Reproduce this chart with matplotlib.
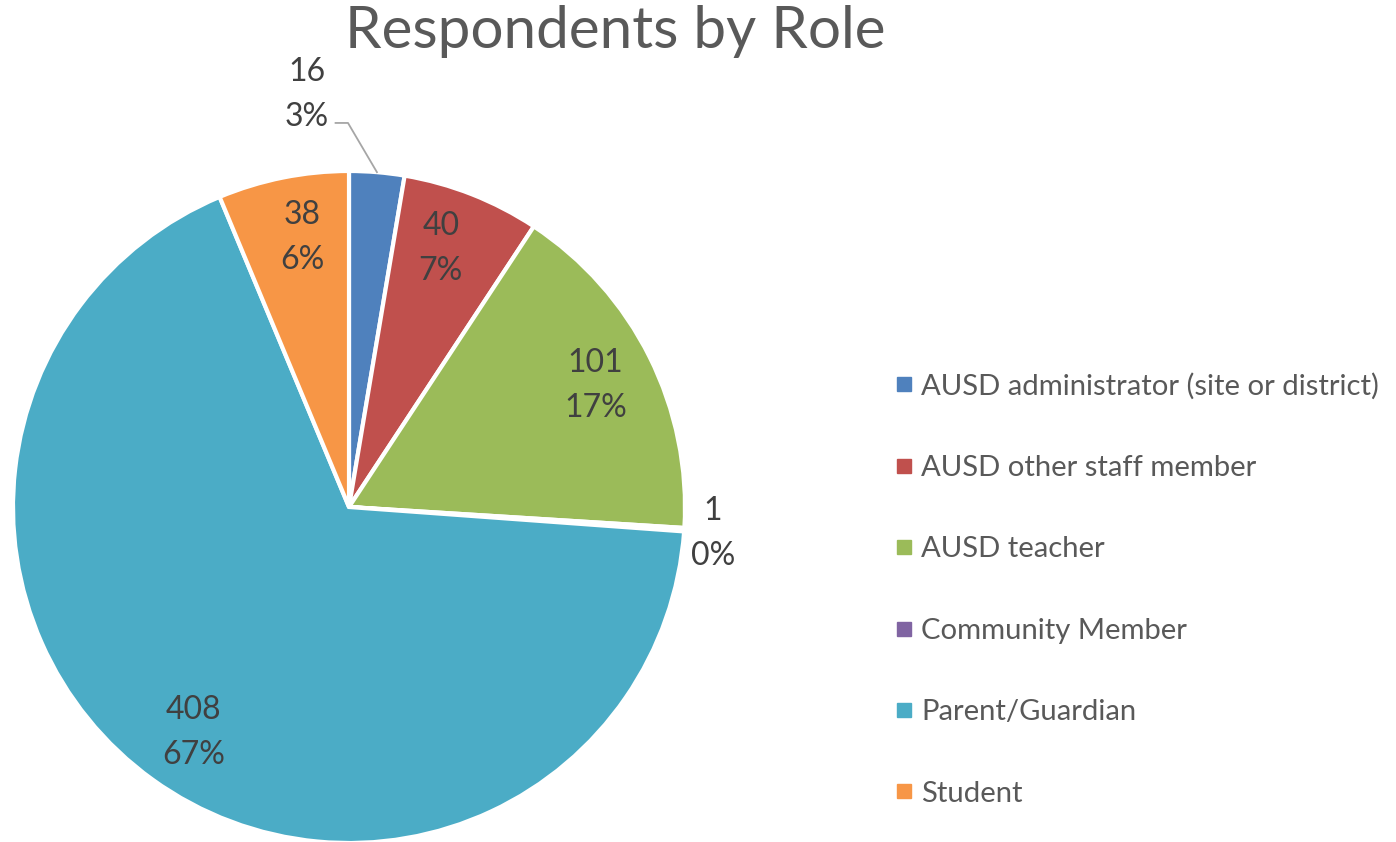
import numpy as np
import matplotlib.pyplot as plt
from matplotlib.lines import Line2D

roles = ['AUSD administrator (site or district)', 'AUSD other staff member',
         'AUSD teacher', 'Community Member', 'Parent/Guardian', 'Student']
counts = [16, 40, 101, 1, 408, 38]
pcts = [3, 7, 17, 0, 67, 6]  # as printed on the chart
colors = ['#4F81BD', '#C0504D', '#9BBB59', '#8064A2', '#4BACC6', '#F79646']

plt.rcParams['font.family'] = ['Lato', 'DejaVu Sans']

W, H = 1396, 842
fig = plt.figure(figsize=(W / 100, H / 100), dpi=100)
# pie centre at (349, 507) px, radius 336 px
cx, cy, R = 349, 507, 336
ax = fig.add_axes([(cx - R) / W, (H - cy - R) / H, 2 * R / W, 2 * R / H])

wedges, _ = ax.pie(counts, colors=colors, startangle=90, counterclock=False,
                   radius=1, wedgeprops=dict(edgecolor='white', linewidth=3))
ax.set_xlim(-1, 1)
ax.set_ylim(-1, 1)
ax.set_aspect('equal', adjustable='box')
ax.axis('off')

# label radius (fraction of R) and angle offset for each wedge
label_r = [1.24, 0.82, 0.82, 1.086, 0.81, 0.82]
label_shift = [10.6, 2.0, 0.0, 0.0, 1.0, -1.5]
for i, (w, n) in enumerate(zip(wedges, counts)):
    mid = np.deg2rad((w.theta1 + w.theta2) / 2 + label_shift[i])
    x, y = label_r[i] * np.cos(mid), label_r[i] * np.sin(mid)
    ax.text(x, y - 0.005, f'{n}\n{pcts[i]}%', ha='center', va='center', fontsize=23,
            color='#404040', linespacing=1.62)

# leader line for the small administrator slice
w = wedges[0]
mid = np.deg2rad((w.theta1 + w.theta2) / 2)
ex, ey = np.cos(mid), np.sin(mid)
ax.plot([-0.04, -0.003, ex], [1.143, 1.143, ey], color='#A6A6A6', lw=1.3,
        clip_on=False)

fig.text(615 / W, 1 - 32 / H, 'Respondents by Role', ha='center', va='center',
         fontsize=42, color='#595959')

handles = [Line2D([], [], marker='s', linestyle='', markersize=9.5, color=c)
           for c in colors]
fig.legend(handles, roles, loc='upper left', bbox_to_anchor=(879 / W, 1 - 361 / H),
           frameon=False, fontsize=21.1, labelcolor='#595959', labelspacing=1.89,
           handletextpad=0.15, handlelength=0.9, borderaxespad=0)

fig.savefig('out.png', dpi=100, facecolor='white')
